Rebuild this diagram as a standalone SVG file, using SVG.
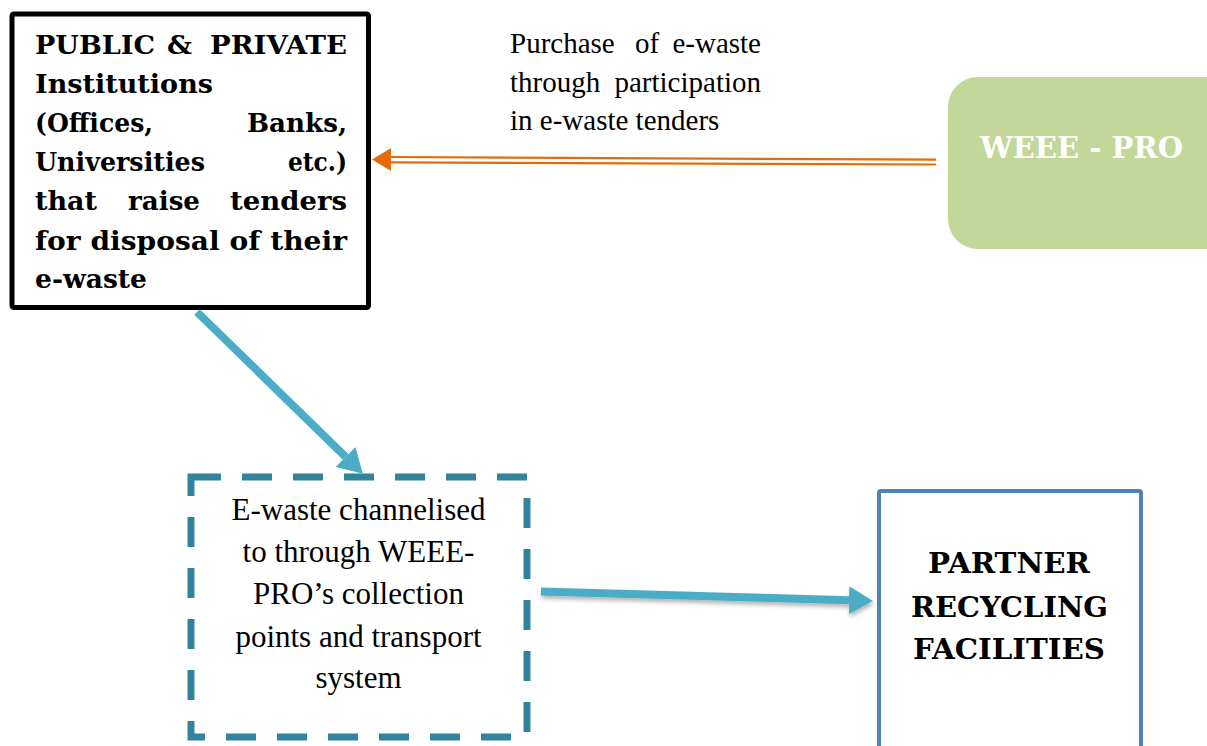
<svg xmlns="http://www.w3.org/2000/svg" width="1207" height="746" viewBox="0 0 1207 746">
<style>
.bold{font-family:"DejaVu Serif","Liberation Serif",serif;font-weight:bold;}
.body{font-family:"Liberation Serif","Times New Roman",serif;fill:#000;}
.blue{stroke:#4bacc6;stroke-width:8;fill:none;}
</style>
<defs>
<marker id="bh" markerUnits="userSpaceOnUse" viewBox="0 0 24 28" refX="0" refY="14" markerWidth="24" markerHeight="28" orient="auto">
<path d="M0,0 L24,14 L0,28 z" fill="#4bacc6"/>
</marker>
<filter id="sh" filterUnits="userSpaceOnUse" x="520" y="570" width="380" height="60">
<feDropShadow dx="1" dy="3" stdDeviation="2" flood-color="#000" flood-opacity="0.3"/>
</filter>
</defs>
<rect width="1207" height="746" fill="#fff"/>

<g id="institutions">
<rect x="12" y="14" width="356.5" height="293.5" rx="2" fill="#fff" stroke="#000" stroke-width="5"/>
<g class="bold" font-size="26" fill="#000">
<text x="35" y="54" textLength="120" lengthAdjust="spacingAndGlyphs">PUBLIC</text>
<text x="167" y="54" textLength="25" lengthAdjust="spacingAndGlyphs">&amp;</text>
<text x="210" y="54" textLength="137" lengthAdjust="spacingAndGlyphs">PRIVATE</text>
<text x="35" y="93" textLength="178" lengthAdjust="spacingAndGlyphs">Institutions</text>
<text x="35" y="132" textLength="118" lengthAdjust="spacingAndGlyphs">(Offices,</text>
<text x="247" y="132" textLength="100" lengthAdjust="spacingAndGlyphs">Banks,</text>
<text x="35" y="171" textLength="170" lengthAdjust="spacingAndGlyphs">Universities</text>
<text x="288" y="171" textLength="59" lengthAdjust="spacingAndGlyphs">etc.)</text>
<text x="35" y="210" textLength="62" lengthAdjust="spacingAndGlyphs">that</text>
<text x="128" y="210" textLength="72" lengthAdjust="spacingAndGlyphs">raise</text>
<text x="230" y="210" textLength="117" lengthAdjust="spacingAndGlyphs">tenders</text>
<text x="35" y="250" textLength="312" lengthAdjust="spacingAndGlyphs">for disposal of their</text>
<text x="35" y="288" textLength="112" lengthAdjust="spacingAndGlyphs">e-waste</text>
</g>
</g>

<g id="weee-pro">
<rect x="948" y="77" width="290" height="172" rx="30" fill="#c4d79b"/>
<text class="bold" x="980" y="158" font-size="29" fill="#fff" textLength="203" lengthAdjust="spacingAndGlyphs">WEEE - PRO</text>
</g>

<g id="purchase-label" class="body" font-size="29">
<text x="510" y="53">Purchase</text>
<text x="647" y="53" text-anchor="middle">of</text>
<text x="761" y="53" text-anchor="end">e-waste</text>
<text x="510" y="92">through</text>
<text x="761" y="92" text-anchor="end">participation</text>
<text x="510" y="130">in e-waste tenders</text>
</g>

<g id="channel">
<rect x="191" y="477" width="336" height="260" fill="#fff" stroke="#31849b" stroke-width="7" stroke-dasharray="30 21"/>
<g class="body" font-size="31" text-anchor="middle">
<text x="358.5" y="520">E-waste channelised</text>
<text x="358.5" y="562">to through WEEE-</text>
<text x="358.5" y="604">PRO’s collection</text>
<text x="358.5" y="647">points and transport</text>
<text x="358.5" y="688">system</text>
</g>
</g>

<g id="partner">
<rect x="879" y="491" width="262" height="270" rx="2" fill="#fff" stroke="#4f81bd" stroke-width="4"/>
<g class="bold" font-size="28" fill="#000" text-anchor="middle">
<text x="1009" y="573" textLength="162" lengthAdjust="spacingAndGlyphs">PARTNER</text>
<text x="1009.5" y="617" textLength="197" lengthAdjust="spacingAndGlyphs">RECYCLING</text>
<text x="1009" y="659" textLength="192" lengthAdjust="spacingAndGlyphs">FACILITIES</text>
</g>
</g>

<g id="connectors">
<g stroke="#e36c09" stroke-width="2.2" fill="none">
<line x1="936" y1="159.7" x2="390" y2="157"/>
<line x1="936" y1="164.5" x2="390" y2="162.3"/>
</g>
<path d="M372,159.5 L391,148 L391,171 z" fill="#e36c09"/>
<line class="blue" x1="197" y1="312" x2="345.6" y2="456.9" marker-end="url(#bh)"/>
<line class="blue" x1="541" y1="591.5" x2="849" y2="600.3" marker-end="url(#bh)" filter="url(#sh)"/>
</g>
</svg>
